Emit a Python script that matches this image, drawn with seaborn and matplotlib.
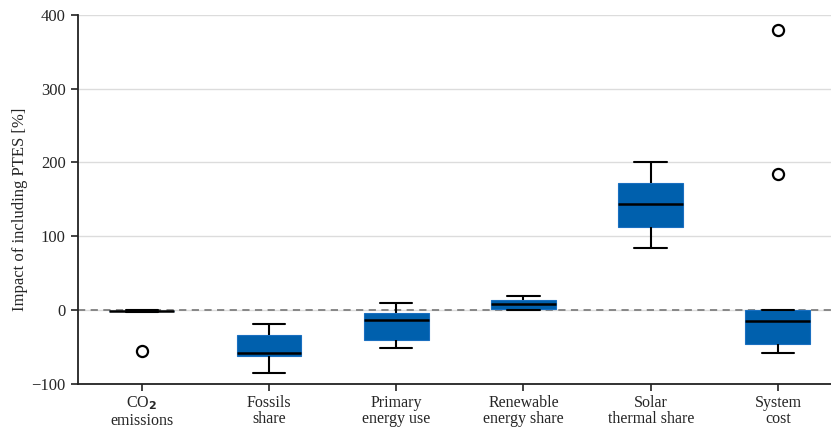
import numpy as np
import pandas as pd
import matplotlib
matplotlib.use("Agg")
import matplotlib.pyplot as plt
import seaborn as sns

# ---- data ----
categories = ["CO$_\\mathbf{2}$\nemissions", "Fossils\nshare", "Primary\nenergy use",
              "Renewable\nenergy share", "Solar\nthermal share", "System\ncost"]
whislo = [-3.0, -85.7, -52.4, 0.0, 83.3, -59.0]
q1 = [-2.0, -63.0, -40.7, 1.4, 111.8, -45.8]
median = [-1.5, -58.7, -13.6, 7.6, 143.1, -15.5]
q3 = [-1.0, -33.8, -4.5, 13.6, 172.6, 0.0]
whishi = [-0.5, -19.4, 8.6, 19.0, 201.0, 0.0]
outliers = [[-56.0], [], [], [], [], [184.0, 380.0]]

# Build a sample per category reproducing the five-number summary
rows = []
N = 20
for i, cat in enumerate(categories):
    vals = ([whislo[i]] + [q1[i]] * N + [median[i]] * N + [q3[i]] * N + [whishi[i]]
            + outliers[i])
    for v in vals:
        rows.append((cat, v))
df = pd.DataFrame(rows, columns=["category", "value"])

sns.set_theme(style="white")
plt.rcParams["font.family"] = ["Liberation Serif", "DejaVu Serif"]
plt.rcParams["mathtext.fontset"] = "dejavusans"

fig = plt.figure(figsize=(8.31, 4.29), dpi=100)
ax = fig.add_axes([0.094, 0.106, 0.906, 0.859])

blue = "#0060ad"
ax.yaxis.grid(True, color="#dcdcdc", linewidth=1.0, zorder=0)
ax.set_axisbelow(True)
ax.axhline(0, color="#808080", linestyle=(0, (4, 3)), linewidth=1.3, zorder=1)

sns.boxplot(data=df, x="category", y="value", order=categories, ax=ax,
            color=blue, width=0.51, linecolor="black", linewidth=1.5,
            boxprops=dict(facecolor=blue, edgecolor="#1a6fc0", linewidth=0.8, zorder=2),
            medianprops=dict(color="black", linewidth=1.8),
            whiskerprops=dict(color="black", linewidth=1.5),
            capprops=dict(color="black", linewidth=1.5),
            flierprops=dict(marker="o", markerfacecolor="white", markeredgecolor="black",
                            markersize=8, markeredgewidth=1.6))

ax.set_xlim(-0.5, 5.417)
ax.set_ylim(-100, 400)
ax.set_yticks([-100, 0, 100, 200, 300, 400])
ax.set_xlabel("")
ax.set_ylabel("Impact of including PTES [%]", fontsize=12)
ax.yaxis.set_label_coords(-0.066, 0.472)
ax.tick_params(axis="y", labelsize=12, direction="out", length=5, width=1.2,
               color="#222222", left=True, pad=4)
ax.tick_params(axis="x", labelsize=11.5, direction="out", length=5, width=1.2,
               color="#222222", bottom=True, pad=3)
for lab in ax.get_xticklabels():
    lab.set_linespacing(1.05)
for s in ["top", "right"]:
    ax.spines[s].set_visible(False)
for s in ["left", "bottom"]:
    ax.spines[s].set_color("#222222")
    ax.spines[s].set_linewidth(1.3)

fig.savefig("out.png", dpi=100)
